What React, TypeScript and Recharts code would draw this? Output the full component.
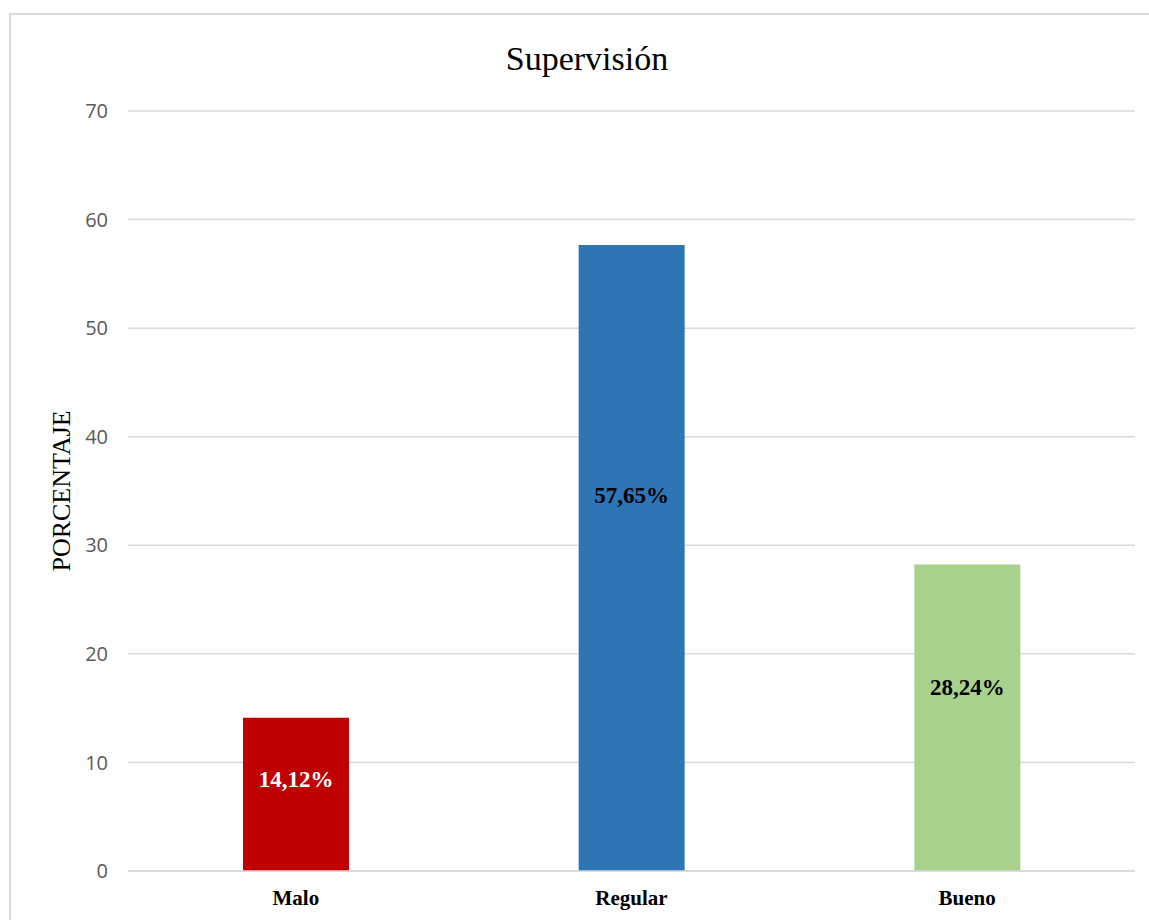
import { Bar, BarChart, CartesianGrid, Cell, LabelList, XAxis, YAxis } from "recharts";

const categories = ["Malo", "Regular", "Bueno"];
const percentages = [14.12, 57.65, 28.24];
const barColors = ["#C00000", "#2E75B6", "#A9D18E"];
const labelColors = ["#FFFFFF", "#000000", "#000000"];
const yTicks = [0, 10, 20, 30, 40, 50, 60, 70];

const data = categories.map((name, i) => ({ name, value: percentages[i] }));

const fmt = (v: number) => v.toFixed(2).replace(".", ",") + "%";

const BarLabel = (props: any) => {
  const { x, y, width, height, value, index } = props;
  const cy = y + height * 0.4;
  return (
    <text
      x={x + width / 2}
      y={cy}
      textAnchor="middle"
      dominantBaseline="central"
      fontFamily="'Liberation Serif', 'Times New Roman', serif"
      fontWeight="bold"
      fontSize={23}
      fill={labelColors[index]}
    >
      {fmt(value)}
    </text>
  );
};

const App = () => {
  return (
    <div style={{ position: "absolute", left: 0, top: 0, width: 1149, height: 920, overflow: "hidden", background: "#fff" }}>
      <div
        style={{
          position: "absolute",
          left: 9,
          top: 13,
          width: 1160,
          height: 920,
          border: "2px solid #d9d9d9",
          boxSizing: "border-box",
        }}
      />
      <div
        style={{
          position: "absolute",
          left: 0,
          top: 40,
          width: 1174,
          textAlign: "center",
          fontFamily: "'Liberation Serif', 'Times New Roman', serif",
          fontSize: 34,
          color: "#000",
        }}
      >
        Supervisión
      </div>
      <div style={{ position: "absolute", left: 0, top: 0 }}>
        <BarChart
          width={1149}
          height={920}
          data={data}
          margin={{ top: 111, right: 14, bottom: 19, left: 50 }}
          barCategoryGap="34%"
        >
          <CartesianGrid vertical={false} stroke="#d9d9d9" strokeWidth={1.5} />
          <XAxis
            dataKey="name"
            height={30}
            axisLine={{ stroke: "#d9d9d9", strokeWidth: 1.5 }}
            tickLine={false}
            tickMargin={13}
            tick={{
              fontFamily: "'Liberation Serif', 'Times New Roman', serif",
              fontWeight: "bold",
              fontSize: 21,
              fill: "#000",
            }}
          />
          <YAxis
            width={78}
            domain={[0, 70]}
            ticks={yTicks}
            axisLine={false}
            tickLine={false}
            tickMargin={14}
            tick={{ fontFamily: "'Open Sans', sans-serif", fontSize: 20, fill: "#595959" }}
            label={{
              value: "PORCENTAJE",
              angle: -90,
              position: "insideLeft",
              offset: 0,
              dx: 11,
              style: {
                fontFamily: "'Liberation Serif', 'Times New Roman', serif",
                fontSize: 26,
                fill: "#000",
                textAnchor: "middle",
              },
            }}
          />
          <Bar dataKey="value" barSize={106} isAnimationActive={false}>
            {data.map((d, i) => (
              <Cell key={d.name} fill={barColors[i]} />
            ))}
            <LabelList dataKey="value" content={BarLabel} />
          </Bar>
        </BarChart>
      </div>
    </div>
  );
};

export default App;
